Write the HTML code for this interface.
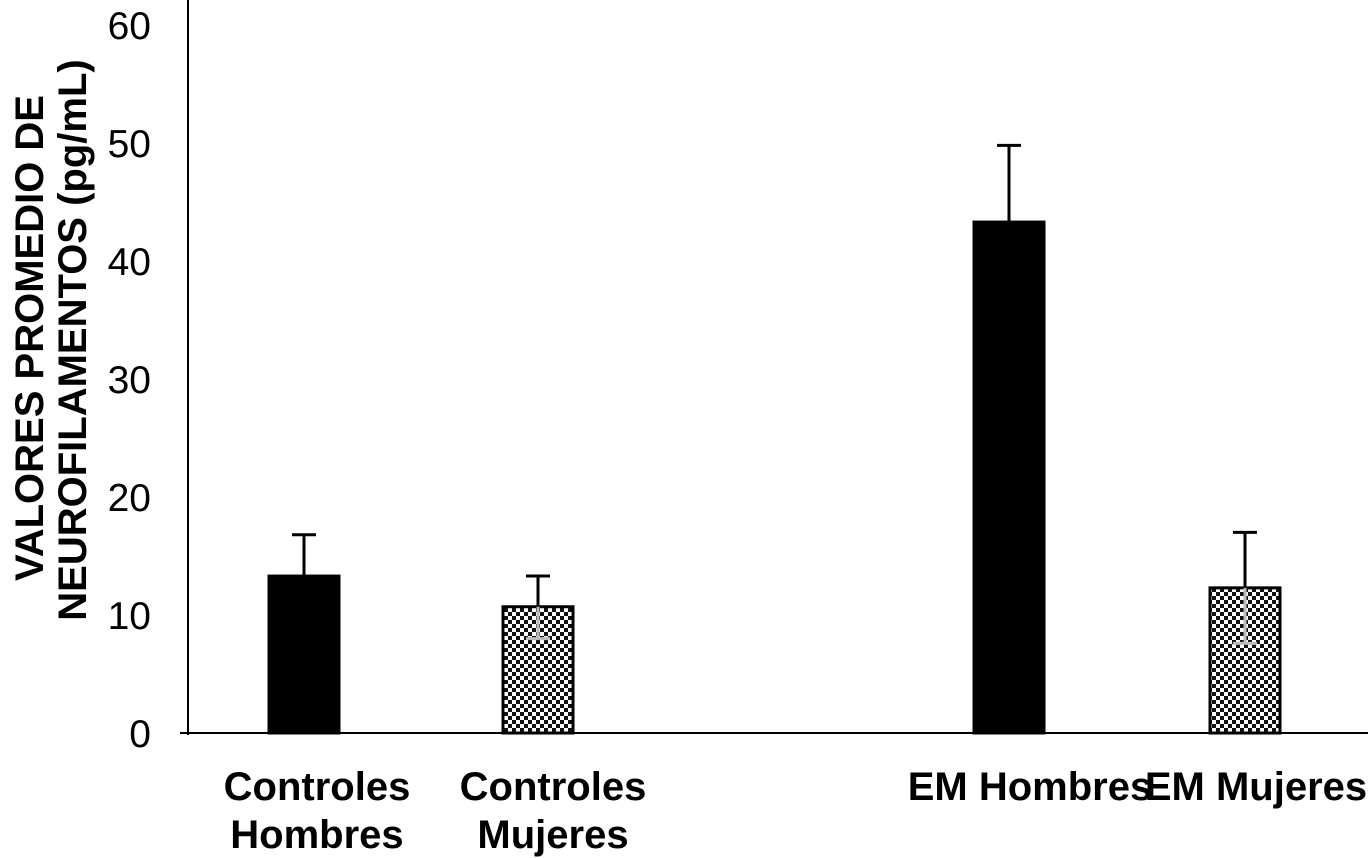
<!DOCTYPE html>
<html><head><meta charset="utf-8"><style>
html,body{margin:0;padding:0;background:#fff;}
svg{display:block;font-family:"Liberation Sans",Arial,sans-serif;}
</style></head><body>
<svg id="chart" width="1368" height="858" viewBox="0 0 1368 858">
<defs>
<pattern id="chk" width="8" height="8" patternUnits="userSpaceOnUse">
<rect width="8" height="8" fill="#fff"/>
<rect width="4" height="4" fill="#111"/>
<rect x="4" y="4" width="4" height="4" fill="#111"/>
</pattern>
</defs>
<g id="plot"></g>
</svg>
<script>
const categories = [["Controles","Hombres"],["Controles","Mujeres"],["EM Hombres"],["EM Mujeres"]];
const values = [13.3, 10.7, 43.3, 12.3];
const errUp = [3.5, 2.6, 6.5, 4.7];
const errDown = [0, 2.7, 0, 4.7];
const fills = ["solid","pattern","solid","pattern"];
const yTicks = [0,10,20,30,40,50,60];

const svgNS="http://www.w3.org/2000/svg";
const g=document.getElementById('plot');
const y0=733, pxPer=11.8;
const yScale=v=>y0-v*pxPer;
const barX=[269,503,974,1210], barW=70;
const labelX=[317,553,1030,1256];
function mk(t,a){const e=document.createElementNS(svgNS,t);for(const k in a)e.setAttribute(k,a[k]);g.appendChild(e);return e;}

const ax=mk('line',{x1:188,y1:0,x2:188,y2:735,stroke:'#000','stroke-width':2});


const bx=mk('line',{x1:180,y1:733,x2:1368,y2:733,stroke:'#000','stroke-width':2});



yTicks.forEach(t=>{
  const e=mk('text',{x:151,y:yScale(t)+14,'text-anchor':'end','font-size':39});
  e.textContent=t;
  
  
});

values.forEach((v,i)=>{
  const top=yScale(v);
  const r=mk('rect',{x:barX[i],y:top,width:barW,height:y0-top,fill:fills[i]==='solid'?'#000':'url(#chk)',stroke:'#000','stroke-width':3});
  
  
  const cx=barX[i]+barW/2, yt=yScale(v+errUp[i]), yb=yScale(v-errDown[i]);
  const el=mk('line',{x1:cx,y1:yt,x2:cx,y2:top,stroke:'#000','stroke-width':3});
  
  
  const cap=mk('line',{x1:cx-12,y1:yt,x2:cx+12,y2:yt,stroke:'#000','stroke-width':3});
  
  
  if(errDown[i]>0){
    const lo=mk('line',{x1:cx,y1:top,x2:cx,y2:yb,stroke:'#bbb','stroke-width':3});
    
    
    const c2=mk('line',{x1:cx-12,y1:yb,x2:cx+12,y2:yb,stroke:'#bbb','stroke-width':3});
    
    
  }
  const lines=categories[i];
  lines.forEach((s,j)=>{
    const t=mk('text',{x:labelX[i],y:800+j*48,'text-anchor':'middle','font-size':40,'font-weight':'bold'});
    t.textContent=s;
    
    
  });
});

const yt1=mk('text',{transform:'translate(43,338) rotate(-90)','text-anchor':'middle','font-size':40,'font-weight':'bold'});
yt1.textContent='VALORES PROMEDIO DE';


const yt2=mk('text',{transform:'translate(86,340) rotate(-90)','text-anchor':'middle','font-size':40,'font-weight':'bold'});
yt2.textContent='NEUROFILAMENTOS (pg/mL)';


</script>
</body></html>
